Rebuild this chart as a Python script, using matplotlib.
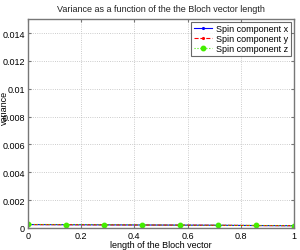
import numpy as np
import matplotlib.pyplot as plt

plt.rcParams['font.family'] = ['Liberation Sans', 'DejaVu Sans']

bloch_len = [0, 1/7, 2/7, 3/7, 4/7, 5/7, 6/7, 1]
var_x = [0.00024, 0.00023, 0.00022, 0.00021, 0.00020, 0.00019, 0.00017, 0.00016]
var_y = [0.00024, 0.00023, 0.00022, 0.00021, 0.00020, 0.00019, 0.00017, 0.00016]
var_z = [0.00025, 0.00024, 0.00023, 0.00022, 0.00020, 0.00019, 0.00018, 0.00016]

fig = plt.figure(figsize=(3.0, 2.51), dpi=100)
ax = fig.add_axes([0.093, 0.088, 0.887, 0.832])

ax.plot(bloch_len, var_x, color="#0000ff", lw=0.8, ls="-", marker=".", ms=2.5,
        label="Spin component x")
ax.plot(bloch_len, var_y, color="#ff0000", lw=0.8, ls="--", marker=".", ms=2.5,
        label="Spin component y")
ax.plot(bloch_len, var_z, color="#44ee00", lw=0.8, ls=":", marker="o", ms=3.2,
        mec="#44ee00", label="Spin component z")

ax.set_xlim(0, 1)
ax.set_ylim(0, 0.015)
ax.set_xticks([0, 0.2, 0.4, 0.6, 0.8, 1])
ax.set_xticklabels(["0", "0.2", "0.4", "0.6", "0.8", "1"])
ax.set_yticks([0, 0.002, 0.004, 0.006, 0.008, 0.01, 0.012, 0.014])
ax.set_yticklabels(["0", "0.002", "0.004", "0.006", "0.008", "0.01", "0.012", "0.014"])
ax.tick_params(direction="in", labelsize=6.5, length=2, color="#777777",
               pad=2, top=True, right=True)
ax.grid(True, ls=":", color="#bbbbbb", lw=0.6)
for s in ax.spines.values():
    s.set_color("#777777")
    s.set_linewidth(1.0)

ax.set_title("Variance as a function of the the Bloch vector length", fontsize=6.5,
             color="#222222", pad=6)
ax.set_xlabel("length of the Bloch vector", fontsize=6.5, labelpad=0)
ax.set_ylabel("variance", fontsize=6.5, labelpad=0)
ax.yaxis.set_label_coords(-0.07, 0.58)

leg = ax.legend(loc="upper right", fontsize=6.5, frameon=True, fancybox=False,
                borderpad=0.3, labelspacing=0.1, handlelength=2.0,
                handletextpad=0.5, borderaxespad=0.3)
leg.get_frame().set_edgecolor("#444444")
leg.get_frame().set_linewidth(0.8)

fig.savefig("out.png", dpi=100)
